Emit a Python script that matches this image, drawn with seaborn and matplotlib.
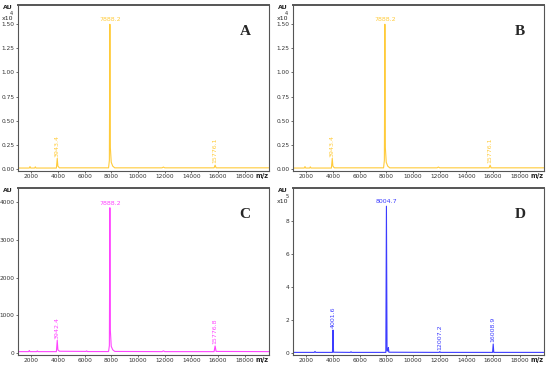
import numpy as np
import pandas as pd
import matplotlib
matplotlib.use("Agg")
import matplotlib.pyplot as plt
import seaborn as sns

# spectrum A / B (x10^4 AU)
mz_a = [1000, 1850, 1900, 1950, 2250, 2300, 2350, 3880, 3943.4, 3990, 4100,
        7790, 7850, 7888.2, 7925, 7990, 8100, 8250, 11800, 11900, 12000,
        15700, 15776.1, 15850, 19800]
int_a = [0.01, 0.01, 0.025, 0.01, 0.01, 0.022, 0.01, 0.01, 0.11, 0.03, 0.012,
         0.012, 0.09, 1.50, 0.22, 0.07, 0.03, 0.012, 0.012, 0.02, 0.012,
         0.012, 0.04, 0.012, 0.012]
labels_a = ["3943.4", "7888.2", "15776.1"]
label_mz_a = [3943.4, 7888.2, 15776.1]
label_int_a = [0.11, 1.50, 0.04]

# spectrum C (AU)
mz_c = [1000, 1800, 1850, 1900, 2400, 2450, 2500, 3880, 3942.4, 3990, 4100,
        6100, 6150, 6200, 7790, 7850, 7888.2, 7925, 7990, 8100, 8250,
        11800, 11900, 12000, 15700, 15776.8, 15850, 19800]
int_c = [40, 40, 70, 40, 40, 60, 40, 40, 340, 90, 50,
         45, 60, 42, 42, 200, 3850, 600, 180, 90, 45,
         40, 60, 40, 40, 190, 45, 40]
labels_c = ["3942.4", "7888.2", "15776.8"]
label_mz_c = [3942.4, 7888.2, 15776.8]
label_int_c = [340, 3850, 190]

# spectrum D (x10^5 AU)
mz_d = [1000, 2600, 2650, 2700, 3960, 4001.6, 4040, 5300, 5350, 5400,
        7960, 8004.7, 8050, 8120, 8150, 8190, 11960, 12007.2, 12050,
        15960, 16008.9, 16050, 19800]
int_d = [0.01, 0.01, 0.07, 0.01, 0.01, 1.37, 0.02, 0.01, 0.05, 0.01,
         0.01, 8.9, 0.1, 0.1, 0.3, 0.02, 0.01, 0.06, 0.01,
         0.01, 0.52, 0.01, 0.01]
labels_d = ["4001.6", "8004.7", "12007.2", "16008.9"]
label_mz_d = [4001.6, 8004.7, 12007.2, 16008.9]
label_int_d = [1.37, 8.9, 0.06, 0.52]

gold = "#FFCB3A"
magenta = "#FF44FF"
blue = "#3C3CFF"

sns.set_style("white")
plt.rcParams["font.family"] = ["DejaVu Sans"]

fig = plt.figure(figsize=(5.5, 3.66), dpi=100)

panels = [
    ("A", [0.0327, 0.533, 0.456, 0.4535], mz_a, int_a, labels_a, label_mz_a, label_int_a,
     gold, (-0.02, 1.70), [0, 0.25, 0.5, 0.75, 1.0, 1.25, 1.5], "{:.2f}", "4"),
    ("B", [0.5327, 0.533, 0.456, 0.4535], mz_a, int_a, labels_a, label_mz_a, label_int_a,
     gold, (-0.02, 1.70), [0, 0.25, 0.5, 0.75, 1.0, 1.25, 1.5], "{:.2f}", "4"),
    ("C", [0.0327, 0.030, 0.456, 0.456], mz_c, int_c, labels_c, label_mz_c, label_int_c,
     magenta, (-50, 4370), [0, 1000, 2000, 3000, 4000], "{:.0f}", None),
    ("D", [0.5327, 0.030, 0.456, 0.456], mz_d, int_d, labels_d, label_mz_d, label_int_d,
     blue, (-0.15, 10.0), [0, 2, 4, 6, 8], "{:.0f}", "5"),
]

for letter, rect, mz, inten, labs, lmz, lint, col, ylim, yt, fmt, expo in panels:
    ax = fig.add_axes(rect)
    df = pd.DataFrame({"mz": mz, "au": inten})
    sns.lineplot(data=df, x="mz", y="au", ax=ax, color=col, lw=0.8,
                 sort=False, estimator=None)
    ax.set_xlim(1000, 19800)
    ax.set_ylim(*ylim)
    ax.set_xticks(range(2000, 19000, 2000))
    ax.set_yticks(yt)
    ax.set_yticklabels([fmt.format(v) for v in yt])
    ax.set_xlabel("")
    ax.set_ylabel("")
    ax.tick_params(labelsize=4.2, length=1.5, width=0.5, pad=1.0,
                   colors="#333333", bottom=True, left=True)
    for s in ax.spines.values():
        s.set_color("#555555")
        s.set_linewidth(0.8)
    ax.spines["top"].set_linewidth(1.4)
    span = ylim[1] - ylim[0]
    for t, x, y in zip(labs, lmz, lint):
        if y > 0.5 * span:
            ax.text(x, y + 0.012 * span, t, color=col, fontsize=4.5,
                    ha="center", va="bottom")
        else:
            ax.text(x, y + 0.01 * span, t, color=col, fontsize=4.5,
                    rotation=90, ha="center", va="bottom")
    ax.text(0.905, 0.84, letter, transform=ax.transAxes, fontsize=11,
            fontweight="bold", family="Liberation Serif", ha="center", va="center")
    ax.text(-0.04, 1.0, "AU", transform=ax.transAxes, fontsize=4.5,
            fontweight="bold", ha="center", va="top")
    if expo:
        ax.text(-0.04, 0.935, "x10", transform=ax.transAxes, fontsize=4.5,
                ha="center", va="top")
        ax.text(-0.025, 0.965, expo, transform=ax.transAxes, fontsize=3.5,
                ha="center", va="top")
    ax.text(0.998, -0.012, "m/z", transform=ax.transAxes, fontsize=4.8,
            fontweight="bold", ha="right", va="top",
            bbox=dict(fc="white", ec="none", pad=0.3))

fig.savefig("out.png", dpi=100)
